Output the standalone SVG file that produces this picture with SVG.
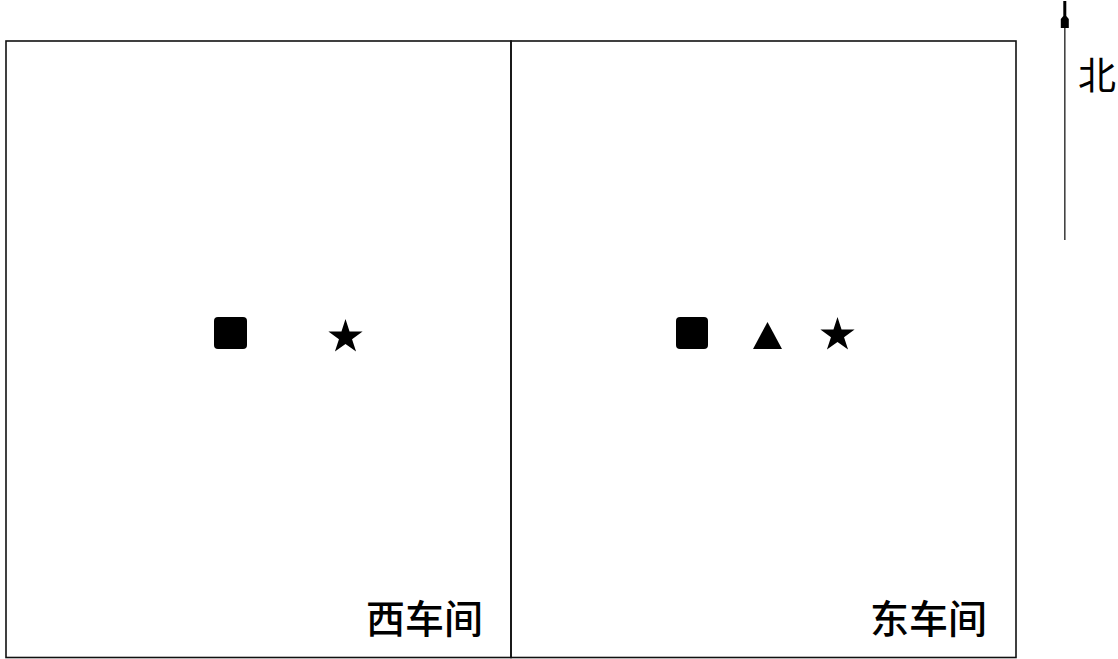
<svg xmlns="http://www.w3.org/2000/svg" width="1118" height="659" viewBox="0 0 1118 659">
<style>
.frame{fill:none;stroke:#111;stroke-width:1.6}
.mark{fill:#000}
.label{font-family:"Noto Sans CJK SC","Noto Sans CJK TC",sans-serif;font-size:39px;font-weight:500;fill:#000}
.north{font-family:"Noto Sans CJK SC",sans-serif;font-size:38px;fill:#000}
</style>
<defs>
<polygon id="star" points="0,-18 4.04,-5.56 17.12,-5.56 6.54,2.13 10.58,14.56 0,6.88 -10.58,14.56 -6.54,2.13 -17.12,-5.56 -4.04,-5.56"/>
</defs>
<rect width="1118" height="659" fill="#fff"/>
<g id="west-workshop">
<rect class="frame" x="6" y="41" width="505" height="616.5"/>
<rect class="mark" x="214" y="317" width="33" height="32" rx="4"/>
<use href="#star" class="mark" transform="translate(345.5,337)"/>
<text class="label" x="366" y="633">西车间</text>
</g>
<g id="east-workshop">
<rect class="frame" x="511" y="41" width="505" height="616.5"/>
<rect class="mark" x="676" y="317" width="32" height="32" rx="4"/>
<polygon class="mark" points="767.5,322 782,349 753,349"/>
<use href="#star" class="mark" transform="translate(837.5,335)"/>
<text class="label" x="870" y="633">东车间</text>
</g>
<g id="north-arrow">
<line x1="1064.8" y1="10" x2="1064.8" y2="240" stroke="#444" stroke-width="1.6"/>
<polygon class="mark" points="1063.3,1 1066.3,1 1066.3,16 1068.8,19 1068.8,28 1060.8,28 1060.8,19 1063.3,16"/>
<text class="north" x="1078" y="89">北</text>
</g>
</svg>
